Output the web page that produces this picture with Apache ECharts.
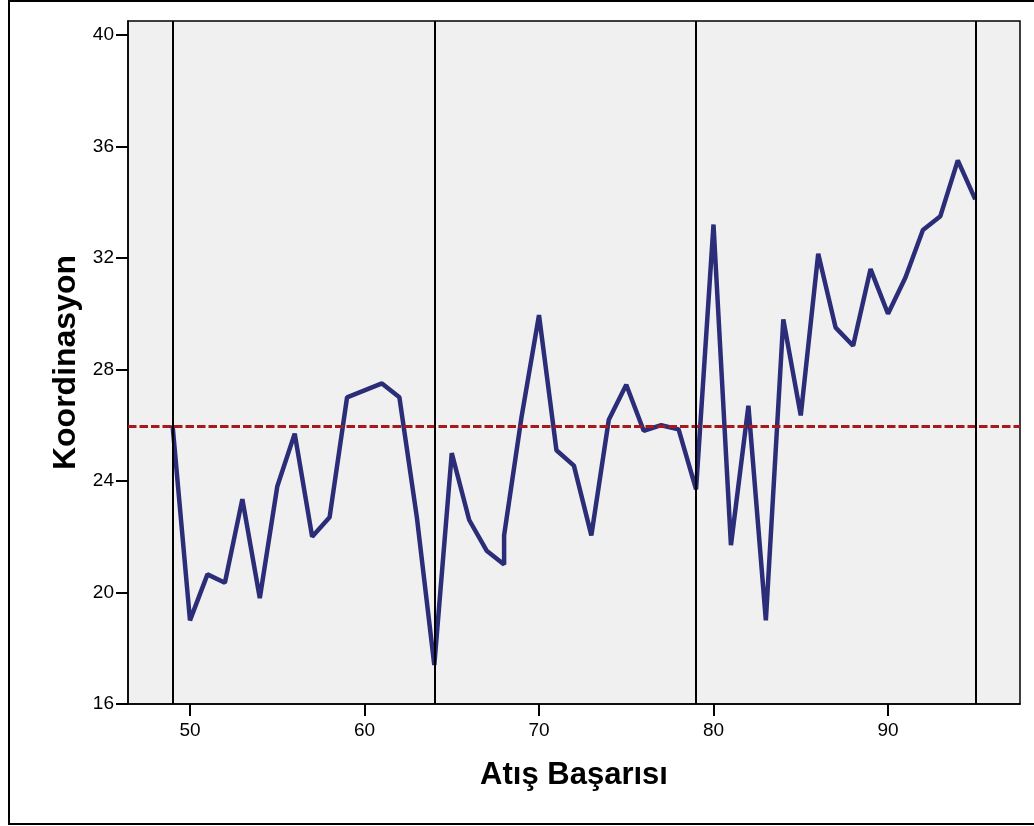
<!DOCTYPE html>
<html>
<head>
<meta charset="utf-8">
<script src="https://cdn.jsdelivr.net/npm/echarts@6/dist/echarts.min.js"></script>
<style>
html,body{margin:0;padding:0;background:#fff;}
#chart{width:1034px;height:826px;}
</style>
</head>
<body>
<div id="chart"></div>
<script>
// Data
const xValues = [49,50,51,52,53,54,55,56,57,58,59,61,62,63,64,65,66,67,68,68,69,70,71,72,73,74,75,76,77,78,79,80,81,82,83,84,85,86,87,88,89,90,91,92,93,94,95];
const yValues = [26.0,19.0,20.65,20.35,23.35,19.8,23.8,25.7,22.0,22.7,27.0,27.5,27.0,22.7,17.4,25.0,22.6,21.5,21.0,22.05,26.3,29.95,25.1,24.55,22.05,26.2,27.45,25.8,26.0,25.85,23.7,33.2,21.7,26.7,19.0,29.8,26.35,32.15,29.5,28.85,31.6,30.0,31.3,33.0,33.5,35.5,34.1];
const meanValue = 25.95;
const verticalRefs = [49,64,79,95];
const xTicks = [50,60,70,80,90];
const yTicks = [16,20,24,28,32,36,40];
const xTitle = 'Atış Başarısı';
const yTitle = 'Koordinasyon';

const seriesData = xValues.map((x,i)=>[x,yValues[i]]);
const FONT = '"Liberation Sans", Arial, sans-serif';

const chart = echarts.init(document.getElementById('chart'), null, {renderer:'canvas'});
chart.setOption({
  animation:false,
  backgroundColor:'#ffffff',
  graphic:[{
    type:'rect', silent:true, z:-10,
    shape:{x:9,y:1,width:1040,height:823},
    style:{fill:'none',stroke:'#000',lineWidth:2}
  }],
  grid:{left:128,right:14,top:21,bottom:122,show:true,backgroundColor:'#f0f0f0',borderColor:'#000',borderWidth:1.5},
  xAxis:{
    type:'value', min:46.447, max:97.564,
    name:xTitle, nameLocation:'middle', nameGap:56,
    nameTextStyle:{fontFamily:FONT,fontWeight:'bold',fontSize:31,color:'#000'},
    axisLine:{show:true,onZero:false,lineStyle:{color:'#000',width:1.5}},
    axisTick:{show:true,length:12,lineStyle:{color:'#000',width:2},customValues:xTicks},
    axisLabel:{fontFamily:FONT,fontSize:19,color:'#000',margin:17,customValues:xTicks},
    splitLine:{show:false}
  },
  yAxis:{
    type:'value', min:16, max:40.5,
    name:yTitle, nameLocation:'middle', nameGap:40, nameRotate:90,
    nameTextStyle:{fontFamily:FONT,fontWeight:'bold',fontSize:32,color:'#000'},
    axisLine:{show:true,onZero:false,lineStyle:{color:'#000',width:1.5}},
    axisTick:{show:true,length:12,lineStyle:{color:'#000',width:2},customValues:yTicks},
    axisLabel:{fontFamily:FONT,fontSize:19,color:'#000',margin:14,customValues:yTicks},
    splitLine:{show:false}
  },
  series:[{
    type:'line',
    data:seriesData,
    showSymbol:false,
    symbol:'none',
    lineStyle:{color:'#2b2d78',width:4.5,join:'bevel'},
    z:3,
    markLine:{
      silent:true, symbol:'none',
      label:{show:false},
      data:[
        {yAxis:meanValue,lineStyle:{color:'#a8191e',width:3,type:[8.5,3]}},
        ...verticalRefs.map(v=>({xAxis:v,lineStyle:{color:'#000',width:2,type:'solid'}}))
      ]
    }
  }]
});
</script>
</body>
</html>
